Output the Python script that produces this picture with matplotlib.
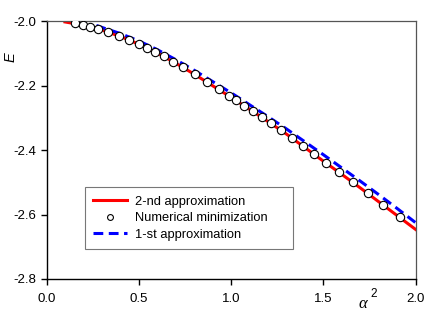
import matplotlib.pyplot as plt

plt.rcParams['font.family'] = ['Liberation Sans', 'DejaVu Sans']

# 2-nd approximation
x_second = [0.1, 0.2, 0.3, 0.4, 0.5, 0.6, 0.7, 0.8, 0.9, 1.0,
            1.1, 1.2, 1.3, 1.4, 1.5, 1.6, 1.7, 1.8, 1.9, 2.0]
e_second = [-2.002, -2.012, -2.027, -2.047, -2.071, -2.098, -2.130, -2.164, -2.200, -2.236,
            -2.273, -2.311, -2.350, -2.392, -2.434, -2.475, -2.517, -2.560, -2.603, -2.646]

# 1-st approximation
x_first = [0.27, 0.3, 0.4, 0.5, 0.6, 0.7, 0.8, 0.9, 1.0,
           1.1, 1.2, 1.3, 1.4, 1.5, 1.6, 1.7, 1.8, 1.9, 2.0]
e_first = [-2.013, -2.019, -2.038, -2.061, -2.088, -2.119, -2.152, -2.187, -2.222,
           -2.259, -2.296, -2.334, -2.374, -2.414, -2.455, -2.496, -2.538, -2.581, -2.625]

# numerical minimization
x_num = [0.154, 0.196, 0.236, 0.281, 0.332, 0.391, 0.449, 0.499, 0.543, 0.588,
         0.635, 0.684, 0.741, 0.805, 0.871, 0.933, 0.989, 1.029, 1.072, 1.119,
         1.167, 1.219, 1.273, 1.329, 1.389, 1.450, 1.514, 1.586, 1.662, 1.740,
         1.824, 1.915]
e_num = [-2.006, -2.012, -2.017, -2.024, -2.033, -2.045, -2.059, -2.070, -2.082, -2.094,
         -2.109, -2.126, -2.143, -2.165, -2.189, -2.211, -2.231, -2.245, -2.262, -2.279,
         -2.298, -2.317, -2.338, -2.361, -2.387, -2.411, -2.439, -2.468, -2.500, -2.534,
         -2.570, -2.609]

fig = plt.figure(figsize=(4.36, 3.15), dpi=100)
ax = fig.add_axes([0.1067, 0.1143, 0.8464, 0.8181])

ax.plot(x_second, e_second, color='#ff0000', lw=2.2, label='2-nd approximation', zorder=2)
ax.plot(x_num, e_num, 'o', ms=6, mfc='white', mec='black', mew=0.8,
        label='Numerical minimization', zorder=4)
ax.plot(x_first, e_first, color='#0000ff', lw=2.2, ls=(0, (3.2, 1.8)),
        label='1-st approximation', zorder=3)

ax.set_xlim(0, 2.0)
ax.set_ylim(-2.8, -2.0)
ax.set_xticks([0.0, 0.5, 1.0, 1.5, 2.0])
ax.set_yticks([-2.8, -2.6, -2.4, -2.2, -2.0])
ax.xaxis.set_major_formatter(plt.FuncFormatter(lambda v, p: f'{v:.1f}'))
ax.yaxis.set_major_formatter(plt.FuncFormatter(lambda v, p: f'{v:.1f}'))
ax.tick_params(direction='out', length=4, width=1, labelsize=9.5, colors='black')
ax.tick_params(axis='x', pad=6)

for s in ['left', 'bottom']:
    ax.spines[s].set_color('black')
    ax.spines[s].set_linewidth(1.0)
for s in ['top', 'right']:
    ax.spines[s].set_color('#555555')
    ax.spines[s].set_linewidth(0.9)

fig.text(0.024, 0.818, 'E', fontsize=10.5, style='italic', rotation=90,
         ha='center', va='center')
fig.text(0.833, 0.035, 'α', fontsize=12, family='Liberation Serif', style='italic',
         ha='center', va='center')
fig.text(0.857, 0.066, '2', fontsize=8.5, ha='center', va='center')

leg = ax.legend(loc='lower left', bbox_to_anchor=(0.104, 0.116, 0.564, 0.256),
                mode='expand', borderaxespad=0,
                fontsize=9.3, frameon=True, fancybox=False, handlelength=2.6,
                handletextpad=0.6, borderpad=0.65, labelspacing=0.35, markerscale=0.7)
leg.get_frame().set_edgecolor('#555555')
leg.get_frame().set_linewidth(0.8)

fig.savefig('out.png', dpi=100)
